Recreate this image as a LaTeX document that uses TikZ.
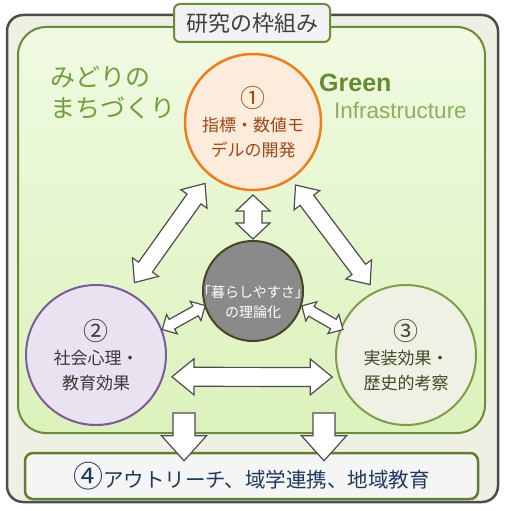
\documentclass[tikz,border=0pt]{standalone}
\usepackage{fontspec}
\setmainfont{Noto Sans CJK JP}
\newfontfamily\latinsf{Liberation Sans}
\usetikzlibrary{calc}

\definecolor{frameGray}{HTML}{4D4D4D}
\definecolor{frameFill}{HTML}{EEF0E4}
\definecolor{leafLine}{HTML}{6A8C36}
\definecolor{leafTop}{HTML}{F0FAE2}
\definecolor{leafBot}{HTML}{DCF2BC}
\definecolor{midoriTxt}{HTML}{70A03C}
\definecolor{greenTxt}{HTML}{668A32}
\definecolor{infraTxt}{HTML}{8CB05E}
\definecolor{devLine}{HTML}{EC7E1E}
\definecolor{devFill}{HTML}{FDEBDC}
\definecolor{devTxt}{HTML}{9A4816}
\definecolor{psyLine}{HTML}{7A5C98}
\definecolor{psyFill}{HTML}{E9E2F0}
\definecolor{impLine}{HTML}{7E9E48}
\definecolor{impFill}{HTML}{EEF1E3}
\definecolor{impTxt}{HTML}{3E4A28}
\definecolor{theoLine}{HTML}{4A4526}
\definecolor{theoFill}{HTML}{8A8A8A}
\definecolor{outTxt}{HTML}{1F3A5E}

% two-headed block arrow: from, to, shaft half width, head half width, head length
\newcommand{\dblblock}[5]{%
  \draw[blockarrow] (#1)
    -- ($(#1)!#5pt!(#2)!#4pt!90:(#2)$) -- ($(#1)!#5pt!(#2)!#3pt!90:(#2)$)
    -- ($(#2)!#5pt!(#1)!#3pt!-90:(#1)$) -- ($(#2)!#5pt!(#1)!#4pt!-90:(#1)$)
    -- (#2)
    -- ($(#2)!#5pt!(#1)!#4pt!90:(#1)$) -- ($(#2)!#5pt!(#1)!#3pt!90:(#1)$)
    -- ($(#1)!#5pt!(#2)!#3pt!-90:(#2)$) -- ($(#1)!#5pt!(#2)!#4pt!-90:(#2)$)
    -- cycle;}
% one-headed block arrow: tail, tip, shaft half width, head half width, head length
\newcommand{\sglblock}[5]{%
  \draw[blockarrow] ($(#1)!#3pt!90:(#2)$)
    -- ($(#2)!#5pt!(#1)!#3pt!-90:(#1)$) -- ($(#2)!#5pt!(#1)!#4pt!-90:(#1)$)
    -- (#2)
    -- ($(#2)!#5pt!(#1)!#4pt!90:(#1)$) -- ($(#2)!#5pt!(#1)!#3pt!90:(#1)$)
    -- ($(#1)!#3pt!-90:(#2)$) -- cycle;}
\newcommand{\bignum}[2]{{\fontsize{#1}{#1}\selectfont #2}}

\begin{document}
\begin{tikzpicture}[x=1pt, y=1pt,
  blockarrow/.style={draw=frameGray, fill=white, line width=1.2pt},
  bubble/.style={circle, inner sep=0pt, align=center, line width=2pt},
  midtxt/.style={font=\fontsize{17}{24.5}\selectfont}]
  \useasboundingbox (0,0) rectangle (505,-511);
  % ---- frames ----
  \draw[frameGray, fill=frameFill, line width=2.5pt, rounded corners=16pt] (7,-15) rectangle (498,-502);
  \draw[leafLine, top color=leafTop, bottom color=leafBot, line width=2pt, rounded corners=28pt] (18,-27) rectangle (485,-433);
  \node[draw=leafLine, fill=black!5, line width=2pt, rounded corners=6pt, minimum width=156pt, minimum height=38pt,
        inner sep=0pt, text=black!75, font=\fontsize{22}{26}\selectfont] (title) at (252,-23) {研究の枠組み};
  % ---- headings ----
  \node[anchor=west, align=left, inner sep=0pt, text=midoriTxt, font=\fontsize{25}{31}\selectfont] (midori) at (50,-92.5) {みどりの\\まちづくり};
  \node[anchor=west, inner sep=0pt, text=greenTxt, font=\latinsf\bfseries\fontsize{25}{28}\selectfont] (green) at (319,-83) {Green};
  \node[anchor=west, inner sep=0pt, text=infraTxt, font=\latinsf\fontsize{22.5}{26}\selectfont] (infra) at (334,-110) {Infrastructure};
  % ---- the four themes ----
  \node[bubble, draw=devLine, fill=devFill, line width=2.5pt, minimum size=136pt, text=devTxt, midtxt] (dev) at (253,-122) {\bignum{25}{①}\\指標・数値モ\\デルの開発};
  \node[bubble, draw=psyLine, fill=psyFill, minimum size=140pt, text=black!78, midtxt] (psy) at (96,-355) {\bignum{25}{②}\\社会心理・\\教育効果};
  \node[bubble, draw=impLine, fill=impFill, minimum size=140pt, text=impTxt, midtxt] (imp) at (406,-355) {\bignum{25}{③}\\実装効果・\\歴史的考察};
  \node[bubble, draw=theoLine, fill=theoFill, minimum size=100pt] (theo) at (253,-291) {};
  \node[align=center, inner sep=0pt, text=white, font=\fontsize{14}{20}\selectfont] (theotxt) at ([yshift=-11pt]theo.center) {「暮らしやすさ」\\の理論化};
  % ---- arrow ends ----
  \foreach \n/\c/\ang/\r in {l1/dev/232/78, l2/psy/62/82, r1/dev/304/76, r2/imp/117/79,
                             v1/dev/270/73, v2/theo/90/52, sl1/psy/21/71, sl2/theo/197/50,
                             sr1/theo/343/51, sr2/imp/158/68, h1/psy/344/79, h2/imp/196.6/77}
    \coordinate (\n) at ($(\c.center)+(\ang:\r pt)$);
  \foreach \a/\b/\s/\h/\l in {l1/l2/8.5/16/19, r1/r2/8.5/16/19, v1/v2/9/17/16,
                              sl1/sl2/5.5/11/11, sr1/sr2/5.5/11/11, h1/h2/9.5/18/22}
    \dblblock{\a}{\b}{\s}{\h}{\l};
  % ---- outreach ----
  \node[draw=leafLine!90!black, fill=black!4, line width=2.5pt, rounded corners=8pt, minimum width=453pt, minimum height=46pt,
        inner sep=0pt, text=outTxt, font=\fontsize{20.5}{24}\selectfont] (out) at (251.5,-476) {\bignum{30}{④}アウトリーチ、域学連携、地域教育};
  \coordinate (d1) at (184,-413);
  \coordinate (d2) at (324,-413);
  \coordinate (t1) at ($(d1 |- out.north)+(0,-9)$);
  \coordinate (t2) at ($(d2 |- out.north)+(0,-9)$);
  \sglblock{d1}{t1}{11}{22.5}{25}
  \sglblock{d2}{t2}{11}{22.5}{25}
\end{tikzpicture}
\end{document}
